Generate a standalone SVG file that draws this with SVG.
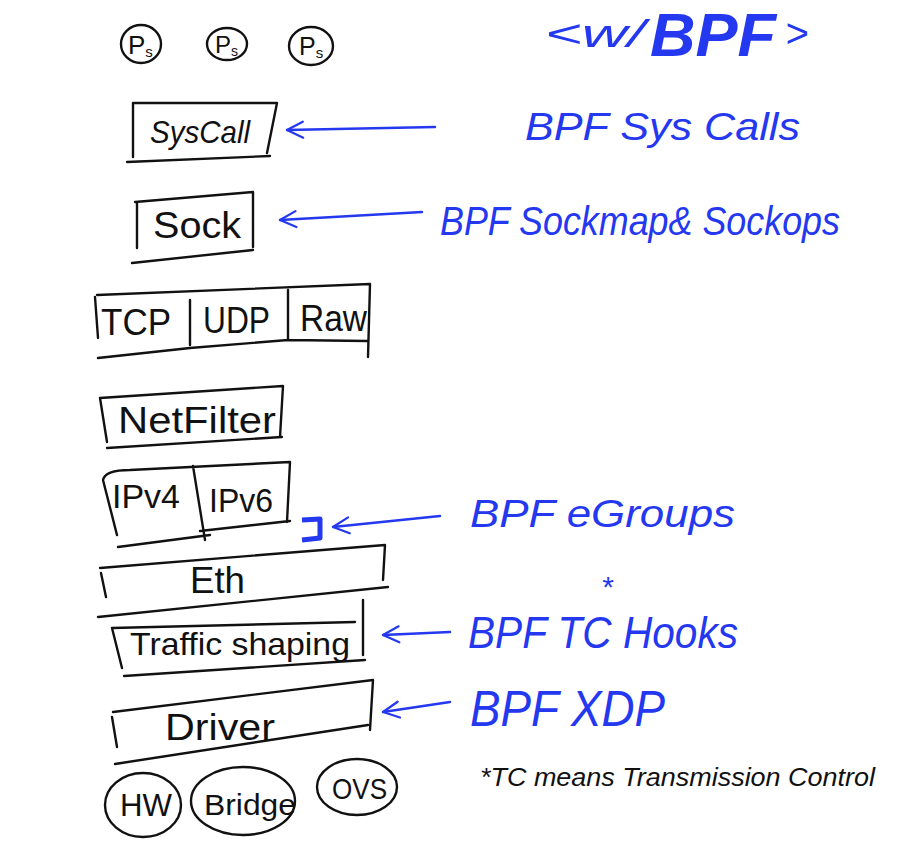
<svg xmlns="http://www.w3.org/2000/svg" width="909" height="852" viewBox="0 0 909 852">
<defs>
<marker id="ah" viewBox="0 0 20 20" refX="18" refY="10" markerWidth="20" markerHeight="20" markerUnits="userSpaceOnUse" orient="auto">
<path d="M2,2 L18,10 L2,18" fill="none" stroke="#2438f0" stroke-width="2.2" stroke-linecap="round" stroke-linejoin="round"/>
</marker>
<style>
.k{fill:none;stroke:#111;stroke-width:2.4;stroke-linecap:round;stroke-linejoin:round}
.t{font-family:"Liberation Sans",Arial,sans-serif;fill:#111}
.b{font-family:"Liberation Sans",Arial,sans-serif;font-style:italic;fill:#2438f0}
.c{fill:none;stroke:#2438f0;stroke-width:2.4;stroke-linecap:round}
</style>
</defs>
<rect width="909" height="852" fill="#fff"/>

<g id="p1"><ellipse class="k" cx="141" cy="44" rx="20" ry="19"/><text class="t" x="128" y="54" font-size="26">P<tspan font-size="15" dy="3">s</tspan></text></g>
<g id="p2"><ellipse class="k" cx="227" cy="44" rx="20" ry="16"/><text class="t" x="215" y="53" font-size="24">P<tspan font-size="14" dy="3">s</tspan></text></g>
<g id="p3"><ellipse class="k" cx="311" cy="46" rx="22" ry="19"/><text class="t" x="299" y="55" font-size="25">P<tspan font-size="15" dy="3">s</tspan></text></g>

<g id="title">
<text class="b" x="545" y="47" font-size="38" textLength="100" lengthAdjust="spacingAndGlyphs">&lt;w/</text>
<text class="b" x="650" y="56" font-size="62" font-weight="bold" textLength="126" lengthAdjust="spacingAndGlyphs">BPF</text>
<text class="b" x="785" y="47" font-size="40">&gt;</text>
</g>

<g id="syscall">
<path class="k" d="M133,103 L277,103 L267,153 M133,103 L133,157 M127,162 L270,156"/>
<text class="t" x="150" y="143" font-size="32" font-style="italic" textLength="100" lengthAdjust="spacingAndGlyphs">SysCall</text>
</g>
<g id="sock">
<path class="k" d="M135,202 L253,192 L253,247 M137,202 L137,248 M132,263 L253,250"/>
<text class="t" x="153" y="238" font-size="36" textLength="88" lengthAdjust="spacingAndGlyphs">Sock</text>
</g>
<g id="transport">
<path class="k" d="M97,295 L370,284 L368,357 M95,297 L98,338 M190,300 L190,345 M288,290 L288,340 M98,358 L190,348 L288,340 L367,341"/>
<text class="t" x="101" y="335" font-size="36" textLength="70" lengthAdjust="spacingAndGlyphs">TCP</text>
<text class="t" x="203" y="333" font-size="36" textLength="67" lengthAdjust="spacingAndGlyphs">UDP</text>
<text class="t" x="300" y="331" font-size="36" textLength="67" lengthAdjust="spacingAndGlyphs">Raw</text>
</g>
<g id="netfilter">
<path class="k" d="M100,398 L283,386 L280,437 M100,398 L107,442 M107,448 L282,437"/>
<text class="t" x="118" y="433" font-size="36" textLength="158" lengthAdjust="spacingAndGlyphs">NetFilter</text>
</g>
<g id="ip">
<path class="k" d="M117,535 L103,480 Q105,470 130,470 L290,462 L287,522 M193,466 L205,540 M118,547 L210,535 M200,531 L290,521"/>
<text class="t" x="112" y="508" font-size="34" textLength="68" lengthAdjust="spacingAndGlyphs">IPv4</text>
<text class="t" x="209" y="512" font-size="34" textLength="64" lengthAdjust="spacingAndGlyphs">IPv6</text>
</g>
<g id="eth">
<path class="k" d="M100,568 L385,545 L383,580 M101,573 L106,597 M98,617 L388,587"/>
<text class="t" x="190" y="593" font-size="36" textLength="55" lengthAdjust="spacingAndGlyphs">Eth</text>
</g>
<g id="traffic">
<path class="k" d="M112,628 L355,622 M363,600 L363,655 M112,628 L122,668 M124,676 L365,660"/>
<text class="t" x="130" y="655" font-size="32" textLength="220" lengthAdjust="spacingAndGlyphs">Traffic shaping</text>
</g>
<g id="driver">
<path class="k" d="M113,712 L373,680 L370,730 M112,717 L117,747 M115,764 L368,725"/>
<text class="t" x="165" y="740" font-size="36" textLength="110" lengthAdjust="spacingAndGlyphs">Driver</text>
</g>
<g id="hw"><ellipse class="k" cx="143" cy="805" rx="38" ry="32"/><text class="t" x="120" y="816" font-size="32" textLength="52" lengthAdjust="spacingAndGlyphs">HW</text></g>
<g id="bridge"><ellipse class="k" cx="243" cy="801" rx="52" ry="34"/><text class="t" x="204" y="815" font-size="30" textLength="92" lengthAdjust="spacingAndGlyphs">Bridge</text></g>
<g id="ovs"><ellipse class="k" cx="357" cy="787" rx="40" ry="28"/><text class="t" x="332" y="799" font-size="30" textLength="55" lengthAdjust="spacingAndGlyphs">OVS</text></g>

<g id="bracket"><path d="M302,520 L320,519 L320,538 L302,540" fill="none" stroke="#2438f0" stroke-width="5" stroke-linejoin="round"/></g>

<g id="connectors">
<line class="c" x1="435" y1="127" x2="287" y2="130" marker-end="url(#ah)"/>
<line class="c" x1="422" y1="212" x2="280" y2="220" marker-end="url(#ah)"/>
<line class="c" x1="440" y1="516" x2="333" y2="527" marker-end="url(#ah)"/>
<line class="c" x1="450" y1="632" x2="383" y2="635" marker-end="url(#ah)"/>
<line class="c" x1="450" y1="702" x2="383" y2="712" marker-end="url(#ah)"/>
</g>

<g id="labels">
<text class="b" x="525" y="140" font-size="38" textLength="275" lengthAdjust="spacingAndGlyphs">BPF  Sys Calls</text>
<text class="b" x="440" y="235" font-size="40" textLength="400" lengthAdjust="spacingAndGlyphs">BPF  Sockmap&amp; Sockops</text>
<text class="b" x="470" y="527" font-size="38" textLength="265" lengthAdjust="spacingAndGlyphs">BPF  eGroups</text>
<text class="b" x="468" y="648" font-size="44" textLength="270" lengthAdjust="spacingAndGlyphs">BPF TC Hooks</text>
<text class="b" x="601" y="597" font-size="30">*</text>
<text class="b" x="470" y="726" font-size="50" textLength="195" lengthAdjust="spacingAndGlyphs">BPF  XDP</text>
<text class="t" x="480" y="786" font-size="26" font-style="italic" textLength="395" lengthAdjust="spacingAndGlyphs">*TC means Transmission Control</text>
</g>
</svg>
